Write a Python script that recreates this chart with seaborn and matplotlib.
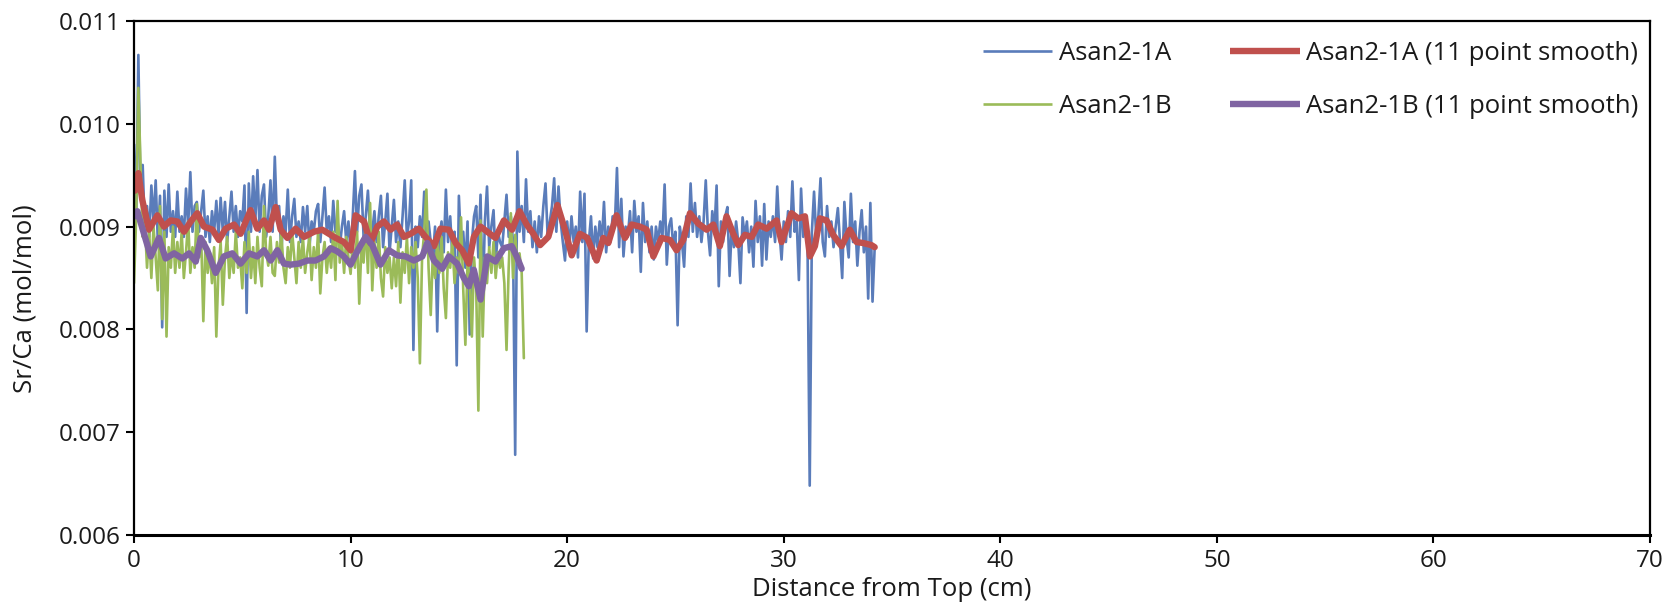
import numpy as np
import matplotlib
matplotlib.use("Agg")
import matplotlib.pyplot as plt
import seaborn as sns

# ---------------- data (Sr/Ca in mmol/mol) ----------------
sample_step_cm = 0.1  # sampling interval of the raw Sr/Ca series

asan_1a = [
    9.80, 9.05, 10.67, 9.30, 9.60, 8.95, 9.20, 8.90, 9.40, 9.05,
    9.45, 8.85, 9.30, 8.02, 9.35, 8.90, 9.41, 8.95, 9.15, 8.90,
    9.34, 8.95, 9.10, 8.90, 9.37, 9.00, 9.53, 8.95, 9.20, 9.24,
    8.95, 9.15, 9.35, 8.90, 9.10, 8.85, 9.15, 8.95, 9.25, 8.90,
    9.28, 8.95, 9.24, 8.85, 9.10, 9.34, 8.95, 9.20, 8.90, 9.15,
    9.05, 9.40, 8.16, 9.42, 8.95, 9.49, 9.05, 9.55, 8.95, 9.30,
    9.41, 8.90, 9.10, 9.45, 8.95, 9.68, 9.05, 9.20, 8.75, 9.10,
    8.95, 9.36, 8.85, 9.10, 9.27, 8.90, 9.05, 8.85, 9.19, 8.95,
    9.20, 8.80, 9.05, 8.95, 9.15, 9.22, 8.85, 9.10, 9.38, 8.95,
    9.10, 8.85, 9.25, 8.95, 9.05, 8.80, 9.00, 9.15, 8.85, 9.05,
    8.75, 9.10, 9.54, 8.95, 9.30, 9.41, 8.90, 9.10, 9.35, 8.95,
    8.95, 9.15, 8.85, 9.10, 9.30, 8.80, 9.05, 9.32, 8.75, 9.00,
    9.26, 8.85, 9.05, 8.80, 9.10, 9.45, 8.90, 9.05, 9.45, 7.80,
    9.00, 8.80, 9.10, 8.90, 9.34, 8.75, 9.05, 8.85, 8.70, 9.00,
    7.98, 8.90, 9.05, 8.75, 9.36, 8.85, 9.10, 8.70, 8.95, 7.65,
    9.30, 8.80, 8.95, 8.60, 9.05, 7.95, 8.85, 9.10, 9.20, 8.70,
    9.31, 8.22, 9.05, 9.39, 8.80, 9.00, 9.16, 8.65, 8.95, 8.85,
    8.80, 9.05, 9.31, 8.90, 9.10, 8.85, 6.78, 9.73, 8.95, 9.20,
    8.85, 9.46, 8.95, 9.15, 8.80, 9.05, 8.75, 9.10, 8.90, 9.20,
    9.42, 8.90, 9.05, 9.20, 9.47, 8.95, 9.39, 9.05, 8.85, 8.67,
    9.05, 8.80, 9.10, 8.85, 9.00, 8.70, 9.34, 8.85, 9.32, 7.98,
    8.85, 9.10, 8.69, 9.00, 8.80, 9.05, 8.85, 9.24, 8.75, 9.00,
    8.85, 9.10, 9.00, 9.57, 8.80, 9.27, 8.71, 9.00, 8.90, 9.15,
    8.75, 9.25, 8.95, 9.10, 8.56, 9.23, 8.85, 9.05, 8.75, 9.00,
    8.68, 9.00, 8.85, 9.05, 8.90, 9.41, 8.63, 9.00, 9.08, 8.80,
    8.95, 8.04, 9.00, 8.85, 8.61, 9.10, 8.90, 9.42, 8.95, 9.23,
    8.90, 9.10, 8.85, 9.05, 9.45, 8.95, 8.72, 9.15, 8.95, 9.40,
    8.42, 9.05, 8.85, 9.10, 9.19, 8.52, 9.00, 8.80, 9.05, 8.85,
    8.45, 9.09, 8.90, 9.05, 8.75, 9.00, 8.61, 9.25, 8.85, 9.10,
    8.62, 9.22, 8.68, 9.05, 8.90, 9.10, 8.85, 9.39, 8.95, 8.68,
    9.05, 8.85, 9.15, 8.90, 9.44, 8.95, 9.05, 8.48, 9.37, 8.90,
    9.10, 8.80, 6.48, 8.95, 9.34, 8.90, 9.10, 9.47, 8.85, 8.71,
    9.20, 8.90, 9.05, 8.80, 9.00, 9.18, 8.85, 8.50, 9.24, 8.90,
    8.70, 9.32, 8.85, 9.05, 8.62, 8.95, 9.16, 8.75, 9.00, 8.30,
    9.23, 8.27, 8.80,
]

asan_1b = [
    8.45, 9.10, 10.35, 9.60, 8.90, 9.05, 8.60, 8.95, 8.50, 9.00,
    8.70, 8.38, 9.20, 8.10, 8.95, 7.93, 8.80, 8.60, 9.00, 8.55,
    8.85, 8.60, 8.95, 8.50, 8.75, 9.05, 8.55, 8.80, 8.60, 9.22,
    8.70, 8.90, 8.08, 8.85, 8.55, 8.75, 8.45, 8.80, 7.93, 8.60,
    8.85, 8.24, 8.70, 8.90, 8.50, 8.75, 8.55, 8.95, 8.60, 8.70,
    8.40, 8.85, 8.55, 8.95, 8.50, 8.80, 8.45, 8.90, 8.60, 8.42,
    9.20, 8.75, 8.62, 8.90, 8.55, 8.52, 8.85, 8.65, 8.95, 8.60,
    8.45, 8.80, 8.60, 8.95, 8.70, 8.45, 8.85, 8.60, 8.90, 8.55,
    8.75, 8.90, 8.48, 8.80, 8.60, 8.95, 8.35, 8.70, 8.85, 8.55,
    8.80, 8.60, 8.95, 8.48, 9.25, 8.65, 8.85, 8.55, 8.90, 8.70,
    8.54, 8.85, 8.60, 8.95, 8.25, 8.80, 8.65, 9.05, 8.55, 9.23,
    8.38, 8.85, 8.60, 8.95, 8.50, 8.32, 8.80, 8.55, 8.70, 8.40,
    8.70, 8.42, 8.85, 8.26, 8.75, 8.55, 8.90, 8.45, 8.80, 8.60,
    8.85, 8.50, 7.67, 8.70, 8.95, 9.36, 8.60, 8.14, 8.75, 8.50,
    8.85, 8.55, 8.90, 8.40, 8.11, 8.75, 8.60, 8.85, 8.45, 8.70,
    8.55, 9.09, 8.40, 7.85, 8.65, 8.50, 7.93, 8.70, 8.40, 7.21,
    9.06, 7.93, 8.70, 8.45, 8.80, 8.55, 8.85, 8.50, 8.75, 8.60,
    8.70, 8.45, 7.80, 8.60, 9.13, 8.50, 8.92, 8.65, 8.74, 8.55,
    7.72,
]

smooth_1a_cm = [
    0.05, 0.20, 0.38, 0.69, 1.08, 1.38, 1.69, 2.00, 2.31, 2.62,
    2.92, 3.23, 3.62, 3.92, 4.23, 4.62, 4.92, 5.38, 5.69, 6.00,
    6.23, 6.54, 6.77, 7.08, 7.46, 7.85, 8.31, 8.69, 9.00, 9.31,
    9.69, 10.00, 10.23, 10.62, 10.92, 11.23, 11.54, 11.85, 12.15, 12.46,
    12.77, 13.15, 13.46, 13.85, 14.15, 14.54, 14.85, 15.15, 15.46, 15.69,
    16.00, 16.31, 16.69, 17.08, 17.46, 17.80, 18.13, 18.44, 18.75, 19.13,
    19.55, 19.90, 20.21, 20.59, 20.93, 21.36, 21.67, 21.90, 22.28, 22.67,
    22.98, 23.36, 23.67, 23.98, 24.36, 24.75, 25.05, 25.36, 25.67, 26.05,
    26.44, 26.75, 27.05, 27.36, 27.67, 27.90, 28.21, 28.52, 28.82, 29.21,
    29.67, 29.90, 30.36, 30.67, 30.98, 31.21, 31.44, 31.67, 31.98, 32.28,
    32.67, 33.05, 33.36, 33.67, 34.05, 34.20,
]
smooth_1a = [
    9.35, 9.52, 9.26, 8.97, 9.11, 9.00, 9.06, 9.05, 8.95, 9.05,
    9.13, 9.00, 8.97, 8.87, 8.98, 9.02, 8.93, 9.16, 8.98, 9.06,
    8.97, 9.19, 8.97, 8.89, 8.98, 8.90, 8.95, 8.97, 8.93, 8.89,
    8.85, 8.77, 9.11, 9.05, 8.84, 9.00, 9.05, 8.97, 9.02, 8.90,
    8.93, 8.98, 8.90, 8.81, 8.98, 8.97, 8.84, 8.77, 8.64, 8.90,
    9.00, 8.95, 8.89, 9.06, 8.97, 9.15, 9.02, 8.93, 8.82, 8.90,
    9.21, 8.97, 8.72, 8.93, 8.89, 8.67, 8.89, 8.84, 9.11, 8.89,
    9.02, 9.00, 8.97, 8.71, 8.89, 8.87, 8.77, 8.87, 9.13, 9.03,
    8.97, 9.02, 8.81, 9.10, 8.93, 8.82, 8.92, 8.90, 9.02, 8.98,
    9.06, 8.85, 9.13, 9.08, 9.10, 8.71, 8.81, 9.08, 9.06, 8.92,
    8.81, 8.97, 8.85, 8.84, 8.82, 8.80,
]

smooth_1b_cm = [
    0.05, 0.15, 0.46, 0.77, 1.15, 1.46, 1.85, 2.23, 2.54, 2.85,
    3.08, 3.38, 3.77, 4.15, 4.54, 4.92, 5.31, 5.69, 6.00, 6.31,
    6.62, 6.92, 7.23, 7.62, 8.00, 8.38, 8.77, 9.08, 9.38, 9.69,
    10.00, 10.31, 10.69, 11.00, 11.38, 11.77, 12.15, 12.54, 12.92, 13.31,
    13.54, 13.85, 14.23, 14.54, 14.92, 15.23, 15.46, 15.69, 16.00, 16.31,
    16.69, 17.08, 17.44, 17.67, 17.90,
]
smooth_1b = [
    9.10, 9.15, 8.93, 8.71, 8.89, 8.69, 8.74, 8.69, 8.74, 8.66,
    8.89, 8.77, 8.55, 8.71, 8.74, 8.64, 8.74, 8.71, 8.77, 8.67,
    8.77, 8.64, 8.63, 8.64, 8.67, 8.67, 8.71, 8.79, 8.76, 8.71,
    8.63, 8.76, 8.90, 8.82, 8.63, 8.77, 8.72, 8.71, 8.67, 8.71,
    8.84, 8.67, 8.59, 8.71, 8.64, 8.50, 8.42, 8.58, 8.29, 8.71,
    8.66, 8.79, 8.81, 8.71, 8.59,
]

series_labels = ["Asan2-1A", "Asan2-1B",
                 "Asan2-1A (11 point smooth)", "Asan2-1B (11 point smooth)"]
series_colors = ["#5A7CBA", "#9BBB59", "#C0504D", "#8064A2"]
x_ticks = [0, 10, 20, 30, 40, 50, 60, 70]
y_ticks = [0.006, 0.007, 0.008, 0.009, 0.010, 0.011]

# ---------------- plotting ----------------
sns.set_theme(style="white")
plt.rcParams["font.family"] = ["Open Sans", "DejaVu Sans"]

dist_1a = np.arange(len(asan_1a)) * sample_step_cm
dist_1b = np.arange(len(asan_1b)) * sample_step_cm
to_mol = 1e-3

fig = plt.figure(figsize=(16.67, 6.06), dpi=100)
ax = fig.add_axes([0.0804, 0.1172, 0.9094, 0.8481])

raw_kw = dict(linewidth=1.9, estimator=None, sort=False)
smooth_kw = dict(linewidth=4.6, estimator=None, sort=False,
                 solid_joinstyle="round", solid_capstyle="round")
sns.lineplot(x=dist_1a, y=np.array(asan_1a) * to_mol, ax=ax,
             color=series_colors[0], label=series_labels[0], **raw_kw)
sns.lineplot(x=dist_1b, y=np.array(asan_1b) * to_mol, ax=ax,
             color=series_colors[1], label=series_labels[1], **raw_kw)
sns.lineplot(x=smooth_1a_cm, y=np.array(smooth_1a) * to_mol, ax=ax,
             color=series_colors[2], label=series_labels[2], **smooth_kw)
sns.lineplot(x=smooth_1b_cm, y=np.array(smooth_1b) * to_mol, ax=ax,
             color=series_colors[3], label=series_labels[3], **smooth_kw)

ax.set_xlim(0, 70)
ax.set_ylim(0.006, 0.011)
ax.set_xticks(x_ticks)
ax.set_yticks(y_ticks)
ax.set_yticklabels([f"{v:.3f}" for v in y_ticks])
ax.tick_params(axis="both", which="major", direction="out", length=6, width=1.5,
               color="black", labelsize=17.5, labelcolor="#1a1a1a", pad=4,
               left=True, bottom=True)
for sp in ax.spines.values():
    sp.set_visible(True)
    sp.set_color("black")
    sp.set_linewidth(1.6)
ax.spines["bottom"].set_linewidth(2.2)

ax.set_xlabel("Distance from Top (cm)", fontsize=18.5, color="#1a1a1a", labelpad=3)
ax.set_ylabel("Sr/Ca (mol/mol)", fontsize=18.5, color="#1a1a1a")
ax.yaxis.set_label_coords(-0.064, 0.46)

leg = ax.legend(loc="upper left", bbox_to_anchor=(0.560, 0.962), ncol=2,
                frameon=False, fontsize=18.5, handlelength=2.7, handletextpad=0.25,
                columnspacing=2.3, labelspacing=1.1, borderpad=0, borderaxespad=0)
for line in leg.get_lines():
    line.set_solid_capstyle("butt")
for txt in leg.get_texts():
    txt.set_color("#1a1a1a")

fig.savefig("out.png", dpi=100)
